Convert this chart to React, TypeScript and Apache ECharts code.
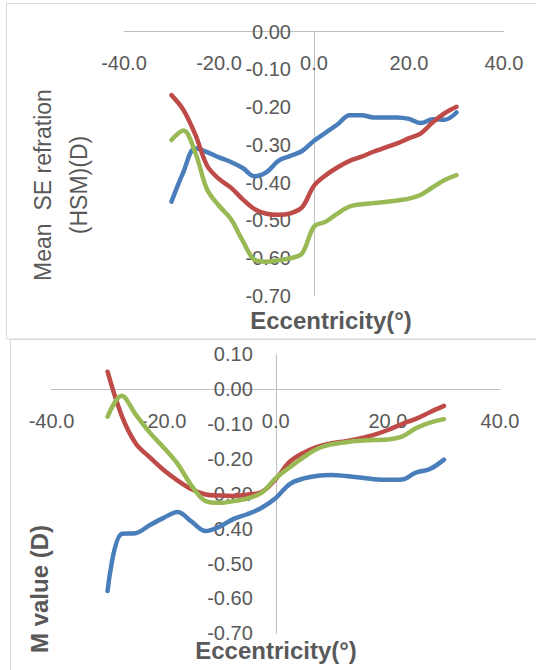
import React, { useEffect, useRef } from "react";
import * as echarts from "echarts";

const ecc = [-30, -27.5, -25, -22.5, -20, -17.5, -15, -12.5, -10, -7.5, -5, -2.5, 0, 2.5, 5, 7.5, 10, 12.5, 15, 17.5, 20, 22.5, 25, 27.5, 30];

// Top chart: Mean SE refraction (HSM)(D)
const blueSE = [-0.450, -0.372, -0.309, -0.319, -0.333, -0.345, -0.361, -0.383, -0.372, -0.342, -0.329, -0.316, -0.289, -0.267, -0.245, -0.221, -0.221, -0.227, -0.227, -0.227, -0.231, -0.242, -0.232, -0.233, -0.214];
const redSE = [-0.168, -0.207, -0.272, -0.355, -0.390, -0.413, -0.444, -0.470, -0.482, -0.485, -0.481, -0.465, -0.408, -0.380, -0.359, -0.342, -0.331, -0.318, -0.307, -0.296, -0.282, -0.269, -0.240, -0.216, -0.199];
const greenSE = [-0.287, -0.262, -0.320, -0.418, -0.461, -0.496, -0.554, -0.604, -0.609, -0.605, -0.600, -0.587, -0.516, -0.503, -0.481, -0.463, -0.457, -0.454, -0.451, -0.447, -0.442, -0.432, -0.412, -0.393, -0.380];

// Bottom chart: M value (D)
const blueM = [-0.579, -0.415, -0.413, -0.390, -0.369, -0.352, -0.380, -0.407, -0.394, -0.372, -0.358, -0.340, -0.312, -0.272, -0.256, -0.248, -0.246, -0.249, -0.253, -0.258, -0.260, -0.259, -0.239, -0.229, -0.202];
const redM = [0.050, -0.075, -0.155, -0.195, -0.232, -0.262, -0.287, -0.302, -0.305, -0.306, -0.302, -0.295, -0.258, -0.208, -0.182, -0.165, -0.155, -0.149, -0.141, -0.131, -0.117, -0.100, -0.085, -0.066, -0.048];
const greenM = [-0.079, -0.019, -0.072, -0.124, -0.167, -0.214, -0.277, -0.321, -0.326, -0.321, -0.313, -0.297, -0.255, -0.224, -0.195, -0.170, -0.158, -0.152, -0.148, -0.146, -0.144, -0.136, -0.112, -0.096, -0.086];

const colors = ["#4A7EBB", "#BE4B48", "#98B954"];
const textColor = "#595959";
const axisColor = "#BFBFBF";
const FONT = "'Liberation Sans', Arial, sans-serif";

const fmt2 = (v: number) => (Math.abs(v) < 1e-9 ? 0 : v).toFixed(2);
const fmt1 = (v: number) => (Math.abs(v) < 1e-9 ? 0 : v).toFixed(1);

function pairs(vals: number[]) {
  return ecc.map((x, i) => [x, vals[i]]);
}

export default function App() {
  const ref = useRef<HTMLDivElement>(null);
  useEffect(() => {
    document.body.style.margin = "0";
    if (!ref.current) return;
    const chart = echarts.init(ref.current, undefined, { renderer: "svg" });

    const xAxisBase = (gridIndex: number, margin: number, offset: number) => ({
      type: "value",
      gridIndex,
      position: "bottom",
      offset,
      min: -40,
      max: 40,
      interval: 20,
      axisLine: { show: true, onZero: false, lineStyle: { color: axisColor, width: 1 } },
      axisTick: { show: false },
      splitLine: { show: false },
      axisLabel: { formatter: fmt1, fontSize: 20, fontFamily: FONT, color: textColor, margin },
    });
    const yAxisBase = (gridIndex: number, max: number, offset: number) => ({
      type: "value",
      gridIndex,
      position: "left",
      offset,
      min: -0.7,
      max,
      interval: 0.1,
      axisLine: { show: true, onZero: false, lineStyle: { color: axisColor, width: 1 } },
      axisTick: { show: false },
      splitLine: { show: false },
      axisLabel: { formatter: fmt2, fontSize: 20, fontFamily: FONT, color: textColor, margin: 23 },
    });
    const line = (name: string, vals: number[], idx: number, c: number) => ({
      name,
      type: "line",
      xAxisIndex: idx,
      yAxisIndex: idx,
      data: pairs(vals),
      smooth: 0.35,
      showSymbol: false,
      symbol: "none",
      lineStyle: { color: colors[c], width: 4.5, cap: "round", join: "round" },
      itemStyle: { color: colors[c] },
    });

    chart.setOption({
      animation: false,
      backgroundColor: "#ffffff",
      grid: [
        { left: 124, top: 31.7, width: 380, height: 264.3 },
        { left: 51.5, top: 354.3, width: 448.5, height: 279 },
      ],
      xAxis: [xAxisBase(0, 21, -264.3), xAxisBase(1, 22, -244.1)],
      yAxis: [yAxisBase(0, 0, -190), yAxisBase(1, 0.1, -224.3)],
      series: [
        line("SE 1", blueSE, 0, 0),
        line("SE 2", redSE, 0, 1),
        line("SE 3", greenSE, 0, 2),
        line("M 1", blueM, 1, 0),
        line("M 2", redM, 1, 1),
        line("M 3", greenM, 1, 2),
      ],
      graphic: [
        {
          type: "rect",
          shape: { x: 6.5, y: 3.5, width: 560, height: 335.5 },
          style: { fill: "none", stroke: "#D9D9D9", lineWidth: 1 },
          silent: true,
        },
        {
          type: "rect",
          shape: { x: 10.5, y: 339.5, width: 560, height: 360 },
          style: { fill: "none", stroke: "#D9D9D9", lineWidth: 1 },
          silent: true,
        },
        {
          type: "text",
          x: 61,
          y: 185,
          rotation: Math.PI / 2,
          style: {
            text: "Mean  SE refration\n(HSM)(D)",
            font: `23px ${FONT}`,
            fill: textColor,
            align: "center",
            verticalAlign: "middle",
            lineHeight: 36,
          },
          silent: true,
        },
        {
          type: "text",
          x: 331,
          y: 320,
          style: {
            text: "Eccentricity(°)",
            font: `bold 24px ${FONT}`,
            fill: textColor,
            align: "center",
            verticalAlign: "middle",
          },
          silent: true,
        },
        {
          type: "text",
          x: 39.5,
          y: 589,
          rotation: Math.PI / 2,
          style: {
            text: "M value (D)",
            font: `bold 24px ${FONT}`,
            fill: textColor,
            align: "center",
            verticalAlign: "middle",
          },
          silent: true,
        },
        {
          type: "text",
          x: 276,
          y: 650,
          style: {
            text: "Eccentricity(°)",
            font: `bold 24px ${FONT}`,
            fill: textColor,
            align: "center",
            verticalAlign: "middle",
          },
          silent: true,
        },
      ],
    });
    return () => chart.dispose();
  }, []);
  return (
    <div
      ref={ref}
      style={{ position: "absolute", left: 0, top: 0, width: 536, height: 670, background: "#fff" }}
    />
  );
}
